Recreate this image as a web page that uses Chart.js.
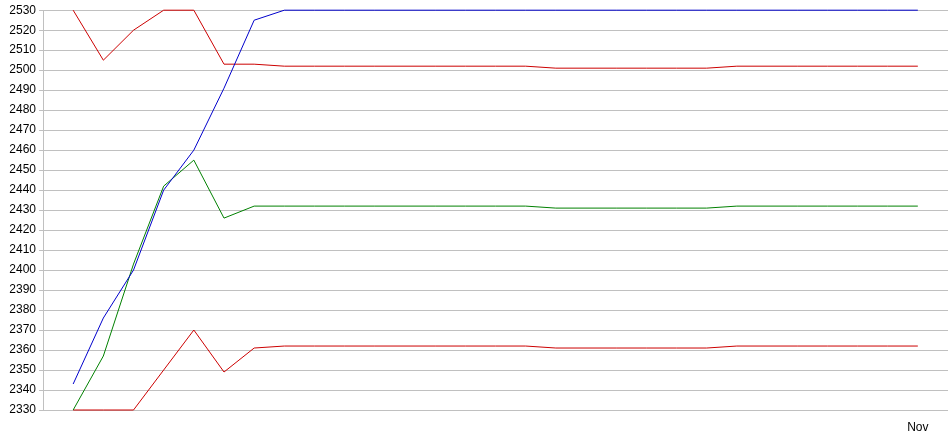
<!DOCTYPE html>
<html>
<head>
<meta charset="utf-8">
<script src="https://cdn.jsdelivr.net/npm/chart.js@4"></script>
<style>
  html, body { margin: 0; padding: 0; background: #fff; }
  #wrap { width: 950px; height: 435px; }
</style>
</head>
<body>
<div id="wrap"><canvas id="line-chart"></canvas></div>
<script>
// 29 points, with an empty slot at each end
var labels = ["", "", "", "", "", "", "", "", "", "", "", "", "", "", "", "",
    "", "", "", "", "", "", "", "", "", "", "", "", "", "Nov", ""];

var blueLine = [null, 2343, 2376, 2400, 2440, 2460, 2491, 2525, 2530, 2530, 2530, 2530, 2530,
    2530, 2530, 2530, 2530, 2530, 2530, 2530, 2530, 2530, 2530, 2530, 2530,
    2530, 2530, 2530, 2530, 2530, null];
var redTop = [null, 2530, 2505, 2520, 2530, 2530, 2503, 2503, 2502, 2502, 2502, 2502, 2502,
    2502, 2502, 2502, 2502, 2501, 2501, 2501, 2501, 2501, 2501, 2502, 2502,
    2502, 2502, 2502, 2502, 2502, null];
var greenLine = [null, 2330, 2357, 2403, 2442, 2455, 2426, 2432, 2432, 2432, 2432, 2432, 2432,
    2432, 2432, 2432, 2432, 2431, 2431, 2431, 2431, 2431, 2431, 2432, 2432,
    2432, 2432, 2432, 2432, 2432, null];
var redBottom = [null, 2330, 2330, 2330, 2350, 2370, 2349, 2361, 2362, 2362, 2362, 2362, 2362,
    2362, 2362, 2362, 2362, 2361, 2361, 2361, 2361, 2361, 2361, 2362, 2362,
    2362, 2362, 2362, 2362, 2362, null];

var yMin = 2330;
var yMax = 2530;

document.addEventListener("DOMContentLoaded", function () {
    Chart.defaults.font.family = "'Liberation Sans', Arial, sans-serif";
    Chart.defaults.font.size = 12;
    Chart.defaults.color = "#000";

    function line(data, color) {
        return {
            data: data,
            borderColor: color,
            borderWidth: 1,
            pointRadius: 0,
            tension: 0,
            fill: false,
            clip: 2
        };
    }

    new Chart(document.getElementById("line-chart"), {
        type: 'line',
        data: {
            labels: labels,
            datasets: [
                line(blueLine, "#0000cc"),
                line(greenLine, "#008000"),
                line(redTop, "#cc0000"),
                line(redBottom, "#cc0000")
            ]
        },
        options: {
            responsive: true,
            maintainAspectRatio: false,
            animation: false,
            layout: { padding: { top: 9, right: 0, left: 0, bottom: 0 } },
            plugins: {
                legend: { display: false },
                tooltip: { enabled: false },
                title: { display: false }
            },
            scales: {
                x: {
                    offset: false,
                    grid: { display: false },
                    border: { display: false },
                    ticks: { autoSkip: false, maxRotation: 0, padding: 2 },
                    afterFit: function (scale) { scale.height = 25; }
                },
                y: {
                    min: yMin,
                    max: yMax,
                    grid: { color: "#c0c0c0", tickLength: 4 },
                    border: { color: "#c0c0c0" },
                    ticks: {
                        stepSize: 10,
                        padding: 3,
                        callback: function (v) { return String(v); }
                    },
                    afterFit: function (scale) { scale.width = 43; }
                }
            }
        }
    });
});
</script>
</body>
</html>
